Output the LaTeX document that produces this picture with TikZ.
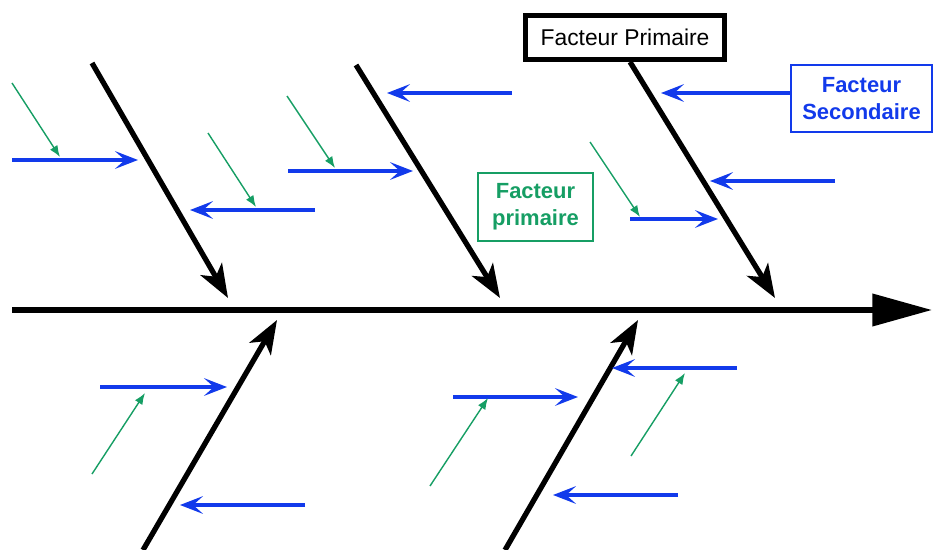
\documentclass[tikz,border=0pt]{standalone}
\usepackage{fontspec}
\setmainfont{Liberation Sans}
\usetikzlibrary{arrows.meta}
\definecolor{fishblue}{RGB}{18, 58, 235}
\definecolor{fishgreen}{RGB}{22, 158, 100}

\begin{document}
\begin{tikzpicture}[
  x = 0.02cm, y = -0.02cm,
  spine/.style    = {line width=3pt, -{Triangle[length=34pt, width=18pt]}},
  bone/.style     = {line width=3pt, -{Stealth[length=19pt, width=14pt, inset=5pt]}},
  secarrow/.style = {fishblue, line width=2pt, -{Stealth[length=13pt, width=10pt, inset=5.5pt]}},
  subarrow/.style = {fishgreen, line width=0.8pt, -{Latex[length=6.5pt, width=5pt]}},
  primbox/.style  = {rectangle, draw, line width=2.8pt, minimum width=3.98cm,
                     minimum height=0.88cm, font=\fontsize{13}{15}\selectfont},
  secbox/.style   = {rectangle, draw=fishblue, line width=1.1pt, text=fishblue,
                     minimum width=2.82cm, minimum height=1.34cm, align=center,
                     font=\bfseries\fontsize{12.5}{15.3}\selectfont},
  subbox/.style   = {rectangle, draw=fishgreen, line width=0.8pt, text=fishgreen,
                     minimum width=2.3cm, minimum height=1.36cm, align=center,
                     font=\bfseries\fontsize{12.5}{15.3}\selectfont}
]
\useasboundingbox (0,0) rectangle (935,550);

\node[primbox] (prim) at (625,37.5)  {Facteur Primaire};
\node[secbox]  (sec)  at (861.5,98.5) {Facteur\\Secondaire};
\node[subbox]  (sub)  at (535.5,207)  {Facteur\\primaire};

\coordinate (tail) at (12,310);
\coordinate (head) at (932,310);
\draw[spine] (tail) -- (head);

\coordinate (t1) at (92,63);   \coordinate (h1) at (228,298);
\coordinate (t2) at (356,65);  \coordinate (h2) at (500,298);
\coordinate (h3) at (775,298);
\coordinate (t4) at (143,550); \coordinate (h4) at (277,320);
\coordinate (t5) at (505,550); \coordinate (h5) at (638,320);
\draw[bone] (t1) -- (h1);
\draw[bone] (t2) -- (h2);
\draw[bone] ([xshift=0.1cm]prim.south) -- (h3);
\draw[bone] (t4) -- (h4);
\draw[bone] (t5) -- (h5);

\coordinate (c0) at (661,93);
\draw[secarrow] ([yshift=0.11cm]sec.west) -- (c0);
\foreach \i/\xa/\xb/\y in {1/12/138/160, 2/315/190/210, 3/512/387/93, 4/288/413/171,
                          5/835/710/181, 6/630/718/219, 7/100/227/387, 8/305/180/505,
                          9/737/612/368, 10/453/578/397, 11/678/553/495}
  {\coordinate (s\i) at (\xa,\y);
   \coordinate (e\i) at (\xb,\y);
   \draw[secarrow] (s\i) -- (e\i);}

\foreach \i/\xa/\ya/\xb/\yb in {1/12/83/60/157, 2/208/133/256/207, 3/287/96/335/168,
                                4/590/142/640/217, 5/92/474/145/393, 6/430/486/488/398,
                                7/631/456/685/373}
  {\coordinate (u\i) at (\xa,\ya);
   \coordinate (v\i) at (\xb,\yb);
   \draw[subarrow] (u\i) -- (v\i);}

\end{tikzpicture}
\end{document}
